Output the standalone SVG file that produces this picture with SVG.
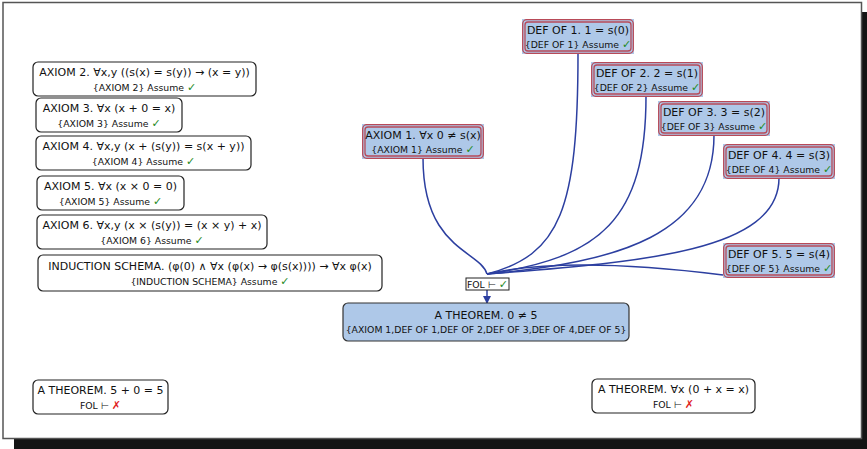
<svg xmlns="http://www.w3.org/2000/svg" width="867" height="449" viewBox="0 0 867 449">
<defs>
<style>
text{font-family:"DejaVu Sans","Liberation Sans",sans-serif;fill:#111;text-anchor:middle}
.t{font-size:11px}
.s{font-size:9.3px}
.ok{fill:#1e8a1e;font-size:11px}
.no{fill:#e02020;font-size:11px}
.plain{fill:#fff;stroke:#222;stroke-width:1.2}
.bg{fill:#aec8e8}
.red{fill:none;stroke:#b84a58;stroke-width:1.3}
.thm{fill:#aec8e8;stroke:#333;stroke-width:1.2}
.e{fill:none;stroke:#2c3fa0;stroke-width:1.5}
</style>
<marker id="arr" markerWidth="8" markerHeight="8" refX="7" refY="4" orient="auto" markerUnits="userSpaceOnUse">
<path d="M0,0 L8,4 L0,8 z" fill="#2c3fa0"/>
</marker>
</defs>
<rect x="14" y="12" width="853" height="437" fill="#141414"/>
<rect x="3" y="2.5" width="858.5" height="436" fill="#fff" stroke="#555" stroke-width="1.5"/>

<g id="edges">
<path class="e" d="M423,158 C423,250 480,250 487,274"/>
<path class="e" d="M578,53 C578,210 560,255 487,274"/>
<path class="e" d="M646,96 C646,220 600,258 487,274"/>
<path class="e" d="M714,135 C714,235 620,262 487,274"/>
<path class="e" d="M779,178 C779,252 640,262 487,274"/>
<path class="e" d="M723,275 C620,262 540,262 487,274"/>
<path class="e" d="M487,290 L487,303" marker-end="url(#arr)"/>
</g>

<g id="axiom2">
<rect class="plain" x="33" y="62" width="223" height="34" rx="5"/>
<text class="t" x="144.5" y="76">AXIOM 2. ∀x,y ((s(x) = s(y)) → (x = y))</text>
<text class="s" x="144.5" y="91">{AXIOM 2} Assume <tspan class="ok">✓</tspan></text>
</g>
<g id="axiom3">
<rect class="plain" x="36" y="98" width="146" height="34" rx="5"/>
<text class="t" x="109" y="112">AXIOM 3. ∀x (x + 0 = x)</text>
<text class="s" x="109" y="127">{AXIOM 3} Assume <tspan class="ok">✓</tspan></text>
</g>
<g id="axiom4">
<rect class="plain" x="36" y="136" width="215" height="34" rx="5"/>
<text class="t" x="143.5" y="150">AXIOM 4. ∀x,y (x + (s(y)) = s(x + y))</text>
<text class="s" x="143.5" y="165">{AXIOM 4} Assume <tspan class="ok">✓</tspan></text>
</g>
<g id="axiom5">
<rect class="plain" x="37" y="176" width="147" height="34" rx="5"/>
<text class="t" x="110.5" y="190">AXIOM 5. ∀x (x × 0 = 0)</text>
<text class="s" x="110.5" y="205">{AXIOM 5} Assume <tspan class="ok">✓</tspan></text>
</g>
<g id="axiom6">
<rect class="plain" x="37" y="215" width="230" height="34" rx="5"/>
<text class="t" x="152" y="229">AXIOM 6. ∀x,y (x × (s(y)) = (x × y) + x)</text>
<text class="s" x="152" y="244">{AXIOM 6} Assume <tspan class="ok">✓</tspan></text>
</g>
<g id="induction">
<rect class="plain" x="38" y="255" width="344" height="36" rx="5"/>
<text class="t" x="210" y="270">INDUCTION SCHEMA. (φ(0) ∧ ∀x (φ(x) → φ(s(x)))) → ∀x φ(x)</text>
<text class="s" x="210" y="285">{INDUCTION SCHEMA} Assume <tspan class="ok">✓</tspan></text>
</g>

<g id="axiom1">
<rect class="bg" x="362" y="124" width="122" height="35"/>
<rect class="red" x="362.7" y="124.7" width="120.6" height="33.6" rx="4"/>
<rect class="red" x="365" y="127" width="116" height="29" rx="3"/>
<text class="t" x="423" y="139">AXIOM 1. ∀x 0 ≠ s(x)</text>
<text class="s" x="423" y="153">{AXIOM 1} Assume <tspan class="ok">✓</tspan></text>
</g>
<g id="def1">
<rect class="bg" x="522" y="19" width="112" height="35"/>
<rect class="red" x="522.7" y="19.7" width="110.6" height="33.6" rx="4"/>
<rect class="red" x="525" y="22" width="106" height="29" rx="3"/>
<text class="t" x="578" y="34">DEF OF 1. 1 = s(0)</text>
<text class="s" x="578" y="48">{DEF OF 1} Assume <tspan class="ok">✓</tspan></text>
</g>
<g id="def2">
<rect class="bg" x="591" y="62" width="112" height="35"/>
<rect class="red" x="591.7" y="62.7" width="110.6" height="33.6" rx="4"/>
<rect class="red" x="594" y="65" width="106" height="29" rx="3"/>
<text class="t" x="647" y="77">DEF OF 2. 2 = s(1)</text>
<text class="s" x="647" y="91">{DEF OF 2} Assume <tspan class="ok">✓</tspan></text>
</g>
<g id="def3">
<rect class="bg" x="658" y="101" width="112" height="35"/>
<rect class="red" x="658.7" y="101.7" width="110.6" height="33.6" rx="4"/>
<rect class="red" x="661" y="104" width="106" height="29" rx="3"/>
<text class="t" x="714" y="116">DEF OF 3. 3 = s(2)</text>
<text class="s" x="714" y="130">{DEF OF 3} Assume <tspan class="ok">✓</tspan></text>
</g>
<g id="def4">
<rect class="bg" x="723" y="144" width="112" height="35"/>
<rect class="red" x="723.7" y="144.7" width="110.6" height="33.6" rx="4"/>
<rect class="red" x="726" y="147" width="106" height="29" rx="3"/>
<text class="t" x="779" y="159">DEF OF 4. 4 = s(3)</text>
<text class="s" x="779" y="173">{DEF OF 4} Assume <tspan class="ok">✓</tspan></text>
</g>
<g id="def5">
<rect class="bg" x="723" y="243" width="112" height="35"/>
<rect class="red" x="723.7" y="243.7" width="110.6" height="33.6" rx="4"/>
<rect class="red" x="726" y="246" width="106" height="29" rx="3"/>
<text class="t" x="779" y="258">DEF OF 5. 5 = s(4)</text>
<text class="s" x="779" y="272">{DEF OF 5} Assume <tspan class="ok">✓</tspan></text>
</g>

<g id="fol">
<rect x="466" y="278" width="43" height="12" fill="#fff" stroke="#222" stroke-width="1"/>
<text class="s" x="487.5" y="288">FOL ⊢ <tspan class="ok">✓</tspan></text>
</g>
<g id="theorem05">
<rect class="thm" x="343" y="303" width="286" height="38" rx="5"/>
<text class="t" x="486" y="319">A THEOREM. 0 ≠ 5</text>
<text class="s" x="486" y="333">{AXIOM 1,DEF OF 1,DEF OF 2,DEF OF 3,DEF OF 4,DEF OF 5}</text>
</g>
<g id="theorem500">
<rect class="plain" x="33" y="380" width="135" height="34" rx="5"/>
<text class="t" x="100.5" y="394">A THEOREM. 5 + 0 = 5</text>
<text class="s" x="100.5" y="409">FOL ⊢ <tspan class="no">✗</tspan></text>
</g>
<g id="theoremall">
<rect class="plain" x="592" y="379" width="163" height="34" rx="5"/>
<text class="t" x="673.5" y="393">A THEOREM. ∀x (0 + x = x)</text>
<text class="s" x="673.5" y="408">FOL ⊢ <tspan class="no">✗</tspan></text>
</g>
</svg>
